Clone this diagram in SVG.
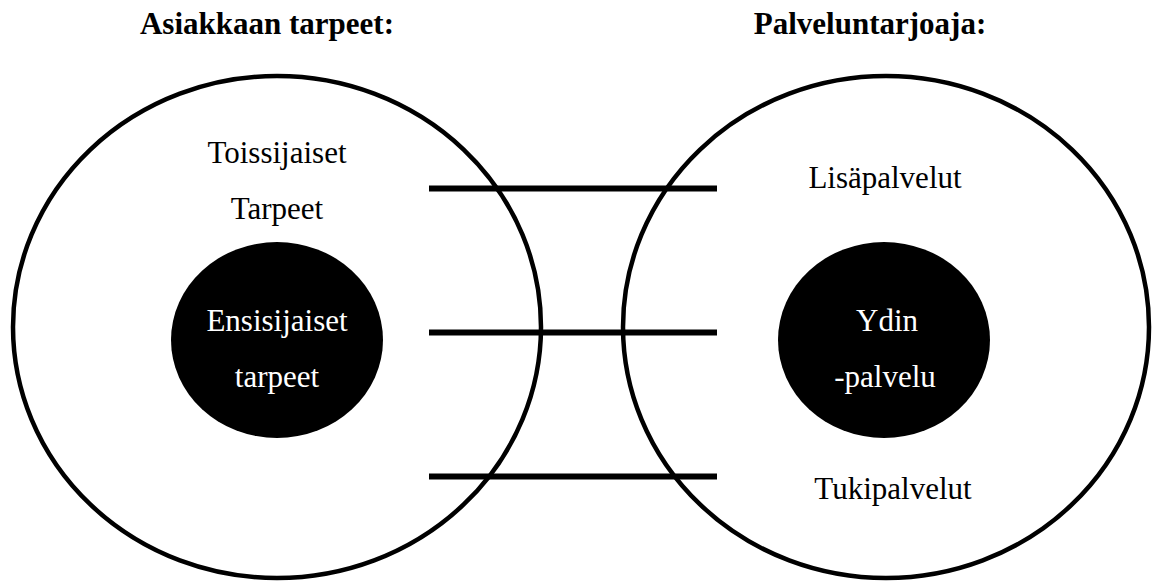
<svg xmlns="http://www.w3.org/2000/svg" width="1152" height="581" viewBox="0 0 1152 581">
  <style>
    .outer { fill: none; stroke: #000; stroke-width: 4.5; }
    .core { fill: #000; stroke: none; }
    .title { font-family: "Liberation Serif", "Times New Roman", serif; font-weight: bold; font-size: 31px; fill: #000; text-anchor: middle; }
    .lbl { font-family: "Liberation Serif", "Times New Roman", serif; font-size: 31px; fill: #000; text-anchor: middle; }
    .lbl-inv { font-family: "Liberation Serif", "Times New Roman", serif; font-size: 31px; fill: #fff; text-anchor: middle; }
    .link { stroke: #000; stroke-width: 6; fill: none; }
  </style>
  <rect width="1152" height="581" fill="#fff"/>

  <!-- Customer needs -->
  <g id="customer-needs">
    <text class="title" x="267" y="34">Asiakkaan tarpeet:</text>
    <ellipse class="outer" cx="277" cy="327" rx="264" ry="251"/>
    <text class="lbl" x="277" y="163">Toissijaiset</text>
    <text class="lbl" x="277" y="219">Tarpeet</text>
    <g id="primary-needs">
      <ellipse class="core" cx="277" cy="340" rx="106" ry="98"/>
      <text class="lbl-inv" x="277" y="331">Ensisijaiset</text>
      <text class="lbl-inv" x="277" y="387">tarpeet</text>
    </g>
  </g>

  <!-- Service provider -->
  <g id="service-provider">
    <text class="title" x="870" y="34">Palveluntarjoaja:</text>
    <ellipse class="outer" cx="886" cy="327" rx="263" ry="251"/>
    <text class="lbl" x="885" y="188">Lisäpalvelut</text>
    <text class="lbl" x="893" y="499">Tukipalvelut</text>
    <g id="core-service">
      <ellipse class="core" cx="884" cy="340" rx="106" ry="98"/>
      <text class="lbl-inv" x="887" y="331">Ydin</text>
      <text class="lbl-inv" x="885" y="387">-palvelu</text>
    </g>
  </g>

  <!-- Links between the two sides -->
  <g id="connectors">
    <line class="link" x1="429" y1="188.5" x2="717" y2="188.5"/>
    <line class="link" x1="429" y1="332.5" x2="717" y2="332.5"/>
    <line class="link" x1="429" y1="476.5" x2="717" y2="476.5"/>
  </g>
</svg>
